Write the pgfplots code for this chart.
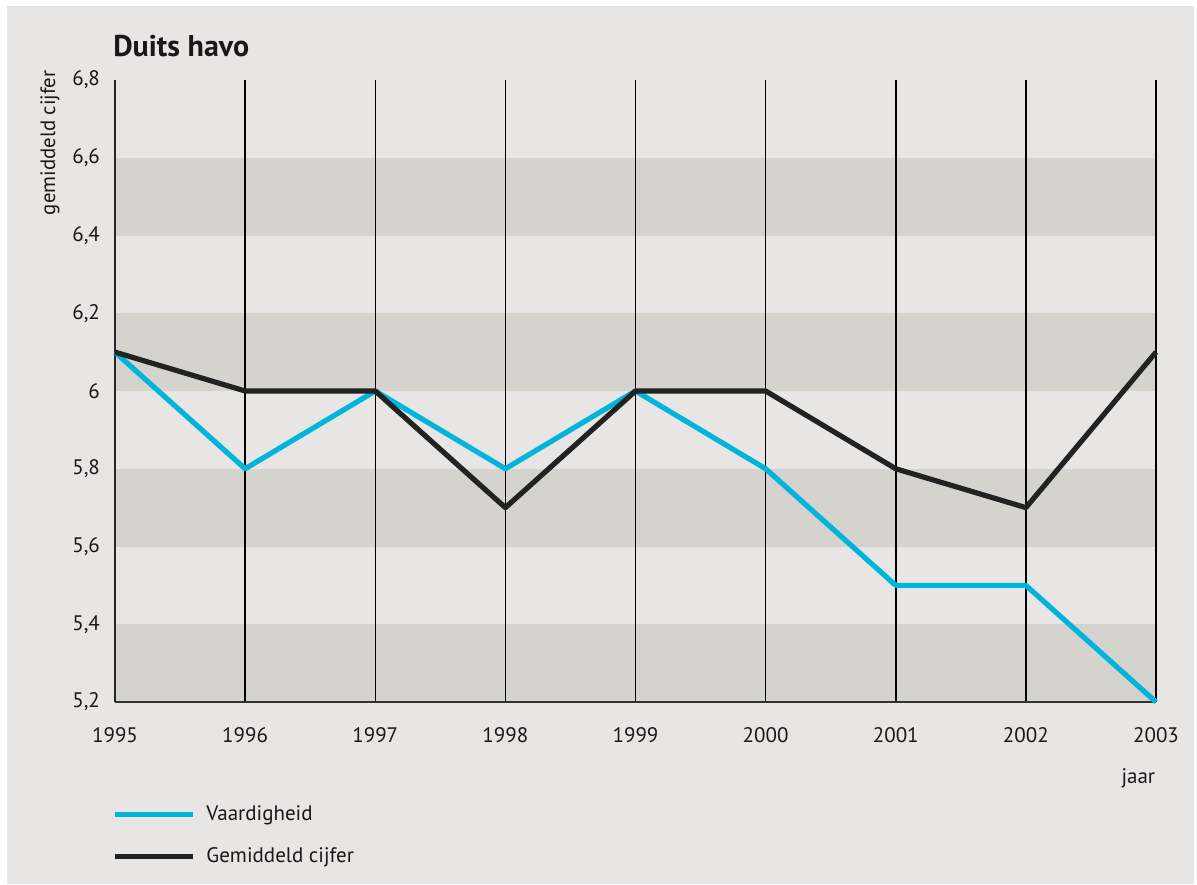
\documentclass[border=0pt]{standalone}
\usepackage{pgfplots}
\pgfplotsset{compat=1.18}
\usepackage{fontspec}
\setmainfont{PT Sans}
\definecolor{bgc}{HTML}{E7E6E4}
\definecolor{band}{HTML}{D4D3CE}
\definecolor{cyanl}{HTML}{00B4DC}
\definecolor{darkl}{HTML}{222222}
\definecolor{txt}{HTML}{1A1718}
\begin{document}
\begin{tikzpicture}
\begin{axis}[
  set layers,
  at={(0pt,0pt)}, anchor=south west,
  scale only axis, width=520.5pt, height=311pt,
  xmin=1995, xmax=2003, ymin=5.2, ymax=6.8,
  xtick={1995,1996,1997,1998,1999,2000,2001,2002,2003},
  xticklabels={1995,1996,1997,1998,1999,2000,2001,2002,2003},
  ytick={5.2,5.4,5.6,5.8,6.0,6.2,6.4,6.6,6.8},
  yticklabels={{5,2},{5,4},{5,6},{5,8},{6},{6,2},{6,4},{6,6},{6,8}},
  major tick length=0pt,
  axis x line=bottom, axis y line=left,
  axis line style={-},
  x axis line style={line width=1.2pt, color=black!80},
  y axis line style={line width=1.3pt, color=black!85},
  xmajorgrids, grid style={black, line width=0.75pt},
  ticklabel style={font=\fontsize{10.5}{12}\selectfont, text=txt},
  xticklabel style={yshift=-9pt},
  yticklabel style={xshift=-4pt},
  clip=false,
  legend style={at={(-0.003,-0.1595)}, anchor=north west, draw=none, fill=none,
    font=\fontsize{10.5}{12}\selectfont, text=txt, row sep=8pt, inner sep=0pt},
  legend cell align=left,
  legend image code/.code={\draw[#1, line width=2.6pt] (0pt,0pt) -- (39pt,0pt); \path (42.5pt,0pt);},
]
\begin{pgfonlayer}{axis background}
\fill[white] (rel axis cs:-0.1105,-0.2926) rectangle (rel axis cs:1.0394,1.1286);
\fill[bgc] (rel axis cs:-0.10375,-0.2926) rectangle (rel axis cs:1.0365,1.119);
\end{pgfonlayer}
\addplot[on layer=axis background, fill=band, draw=none, forget plot] coordinates {(1995,5.2) (2003,5.2) (2003,5.4) (1995,5.4)} -- cycle;
\addplot[on layer=axis background, fill=band, draw=none, forget plot] coordinates {(1995,5.6) (2003,5.6) (2003,5.8) (1995,5.8)} -- cycle;
\addplot[on layer=axis background, fill=band, draw=none, forget plot] coordinates {(1995,6.0) (2003,6.0) (2003,6.2) (1995,6.2)} -- cycle;
\addplot[on layer=axis background, fill=band, draw=none, forget plot] coordinates {(1995,6.4) (2003,6.4) (2003,6.6) (1995,6.6)} -- cycle;
% axis base lines
\addplot[black!80, line width=1.2pt, forget plot] coordinates {(1995,5.2) (2003,5.2)};
\addplot[black!85, line width=1.4pt, forget plot] coordinates {(1995,5.2) (1995,6.8)};
\addplot[cyanl, line width=2.6pt, line join=round] coordinates {
 (1995,6.1) (1996,5.8) (1997,6.0) (1998,5.8) (1999,6.0) (2000,5.8) (2001,5.5) (2002,5.5) (2003,5.2)};
\addplot[darkl, line width=2.6pt, line join=round] coordinates {
 (1995,6.1) (1996,6.0) (1997,6.0) (1998,5.7) (1999,6.0) (2000,6.0) (2001,5.8) (2002,5.7) (2003,6.1)};
\legend{Vaardigheid, Gemiddeld cijfer}
\node[anchor=west, inner sep=0pt, font=\bfseries\fontsize{15}{17}\selectfont, text=txt] at (rel axis cs:-0.002,1.055) {Duits havo};
\node[rotate=90, font=\fontsize{10.4}{12}\selectfont, text=txt] at (rel axis cs:-0.0624,0.899) {gemiddeld cijfer};
\node[font=\fontsize{10.5}{12}\selectfont, text=txt] at (rel axis cs:0.983,-0.122) {jaar};
\end{axis}
\pgfresetboundingbox
\path[use as bounding box] (-57.5pt,-91pt) rectangle (541pt,351pt);
\end{tikzpicture}
\end{document}
